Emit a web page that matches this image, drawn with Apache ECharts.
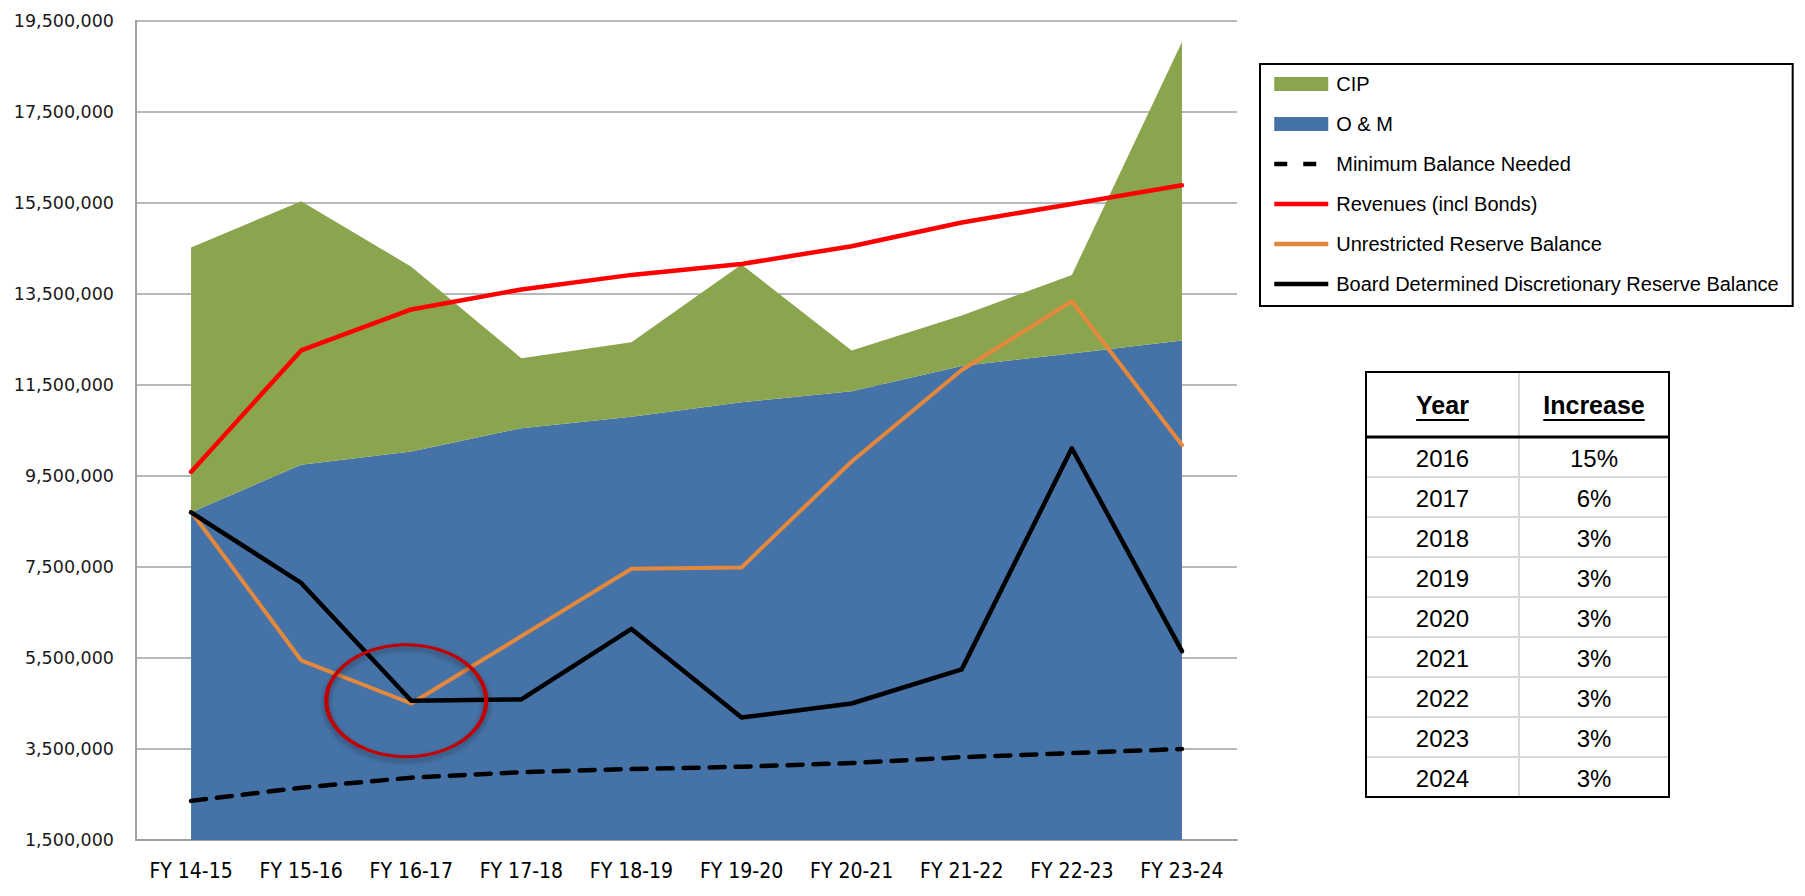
<!DOCTYPE html>
<html>
<head>
<meta charset="utf-8">
<script src="https://cdn.jsdelivr.net/npm/echarts@6/dist/echarts.min.js"></script>
<style>
  html, body { margin: 0; padding: 0; background: #ffffff; }
  #chart { width: 1805px; height: 896px; }
</style>
</head>
<body>
<div id="chart"></div>
<script>
// ---------- data ----------
const categories = ['FY 14-15', 'FY 15-16', 'FY 16-17', 'FY 17-18', 'FY 18-19', 'FY 19-20', 'FY 20-21', 'FY 21-22', 'FY 22-23', 'FY 23-24'];
const omValues = [8700000, 9750000, 10040000, 10550000, 10800000, 11120000, 11360000, 11920000, 12190000, 12480000];
const totalValues = [14520000, 15540000, 14100000, 12090000, 12440000, 14150000, 12260000, 13030000, 13920000, 19040000];
const minimumBalance = [2360000, 2650000, 2870000, 2990000, 3060000, 3110000, 3190000, 3320000, 3410000, 3500000];
const revenues = [9590000, 12260000, 13160000, 13600000, 13920000, 14160000, 14550000, 15070000, 15480000, 15890000];
const unrestrictedReserve = [8720000, 5450000, 4500000, 5980000, 7460000, 7490000, 9820000, 11830000, 13340000, 10180000];
const boardReserve = [8700000, 7150000, 4560000, 4590000, 6140000, 4190000, 4500000, 5250000, 10110000, 5650000];
const cipValues = totalValues.map((t, i) => t - omValues[i]);

const yTickValues = [1500000, 3500000, 5500000, 7500000, 9500000, 11500000, 13500000, 15500000, 17500000, 19500000];

const tableHeaders = ['Year', 'Increase'];
const tableYears = ['2016', '2017', '2018', '2019', '2020', '2021', '2022', '2023', '2024'];
const tableIncreases = ['15%', '6%', '3%', '3%', '3%', '3%', '3%', '3%', '3%'];

// ---------- styles ----------
const C_GREEN = '#8BA54F';
const C_BLUE = '#4673A7';
const C_RED = '#FF0000';
const C_ORANGE = '#E3883C';
const C_BLACK = '#000000';
const GRID_COLOR = '#A0A0A0';
const DASH = [15, 11];

const chart = echarts.init(document.getElementById('chart'), null, { renderer: 'svg' });

// ---------- table graphic ----------
function measure(text, font) {
  const c = document.createElement('canvas').getContext('2d');
  c.font = font;
  return c.measureText(text).width;
}
function buildTable() {
  const L = 1366, T = 372, W = 303, colX = 1519, headH = 65, rowH = 40;
  const R = L + W;
  const nRows = tableYears.length;
  const B = T + headH + nRows * rowH;
  const c1 = (L + colX) / 2, c2 = (colX + R) / 2;
  const els = [];
  els.push({ type: 'rect', shape: { x: L, y: T, width: W, height: B - T }, style: { fill: '#fff' }, z: 10 });
  for (let i = 1; i < nRows; i++) {
    const y = T + headH + i * rowH;
    els.push({ type: 'line', shape: { x1: L, y1: y, x2: R, y2: y }, style: { stroke: '#D9D9D9', lineWidth: 2 }, z: 11 });
  }
  els.push({ type: 'line', shape: { x1: colX, y1: T, x2: colX, y2: B }, style: { stroke: '#D9D9D9', lineWidth: 2 }, z: 11 });
  els.push({ type: 'line', shape: { x1: L, y1: T + headH, x2: R, y2: T + headH }, style: { stroke: '#000', lineWidth: 3 }, z: 12 });
  els.push({ type: 'rect', shape: { x: L, y: T, width: W, height: B - T }, style: { fill: 'none', stroke: '#000', lineWidth: 2 }, z: 13 });
  const headFont = 'bold 25px "Liberation Sans", Arial, sans-serif';
  [c1, c2].forEach((cx, k) => {
    els.push({ type: 'text', x: cx, y: T + 33, style: { text: tableHeaders[k], align: 'center', verticalAlign: 'middle', font: headFont, fill: '#000' }, z: 14 });
    const w = measure(tableHeaders[k], headFont);
    els.push({ type: 'line', shape: { x1: cx - w / 2, y1: T + 48, x2: cx + w / 2, y2: T + 48 }, style: { stroke: '#000', lineWidth: 2 }, z: 14 });
  });
  const bodyFont = '24px "Liberation Sans", Arial, sans-serif';
  for (let i = 0; i < nRows; i++) {
    const cy = T + headH + i * rowH + rowH / 2 + 1;
    els.push({ type: 'text', x: c1, y: cy, style: { text: tableYears[i], align: 'center', verticalAlign: 'middle', font: bodyFont, fill: '#000' }, z: 14 });
    els.push({ type: 'text', x: c2, y: cy, style: { text: tableIncreases[i], align: 'center', verticalAlign: 'middle', font: bodyFont, fill: '#000' }, z: 14 });
  }
  return els;
}

const lineSeries = (name, data, color, width, type, z) => ({
  name, type: 'line', data, symbol: 'none', showSymbol: false, z,
  itemStyle: { color },
  lineStyle: { color, width, type, cap: 'round', join: 'round' },
  emphasis: { disabled: true }
});

const hiddenSymbol = { color: 'rgba(0,0,0,0)', borderWidth: 0, opacity: 0 };
const legendLine = (name, color, width, type) => ({
  name,
  itemStyle: hiddenSymbol,
  lineStyle: { color, width, type, cap: 'butt' }
});

const option = {
  backgroundColor: '#ffffff',
  animation: false,
  grid: { left: 136, right: 568, top: 21, bottom: 56, containLabel: false, outerBoundsMode: 'none' },
  legend: {
    orient: 'vertical',
    left: 1260, top: 64,
    padding: [10, 14, 12, 12],
    borderColor: '#000', borderWidth: 2,
    itemWidth: 54, itemHeight: 14, itemGap: 20,
    selectedMode: false,
    textStyle: { fontFamily: '"Liberation Sans", Arial, sans-serif', fontSize: 20, color: '#000', padding: [0, 0, 0, 3] },
    data: [
      { name: 'CIP', icon: 'rect', itemStyle: { borderWidth: 0 } },
      { name: 'O & M', icon: 'rect', itemStyle: { borderWidth: 0 } },
      legendLine('Minimum Balance Needed', C_BLACK, 4.5, [13, 16]),
      legendLine('Revenues (incl Bonds)', C_RED, 4.5, 'solid'),
      legendLine('Unrestricted Reserve Balance', C_ORANGE, 4.5, 'solid'),
      legendLine('Board Determined Discretionary Reserve Balance', C_BLACK, 4.5, 'solid')
    ]
  },
  xAxis: {
    type: 'category',
    data: categories,
    boundaryGap: true,
    axisLine: { show: true, lineStyle: { color: GRID_COLOR, width: 2 } },
    axisTick: { show: false },
    axisLabel: { margin: 20, color: '#000', fontSize: 21, fontFamily: '"Liberation Sans Narrow", "DejaVu Sans Condensed", sans-serif' },
    splitLine: { show: false }
  },
  yAxis: {
    type: 'value',
    min: yTickValues[0],
    max: yTickValues[yTickValues.length - 1],
    interval: yTickValues[1] - yTickValues[0],
    axisLine: { show: true, lineStyle: { color: GRID_COLOR, width: 2 } },
    axisTick: { show: false },
    axisLabel: {
      margin: 22, color: '#1a1a1a', fontSize: 17.5, fontFamily: '"DejaVu Sans", Verdana, sans-serif',
      formatter: v => Math.round(v).toLocaleString('en-US')
    },
    splitLine: { show: true, lineStyle: { color: GRID_COLOR, width: 1.5 } }
  },
  series: [
    {
      name: 'O & M', type: 'line', stack: 'spend', data: omValues, symbol: 'none', z: 1,
      itemStyle: { color: C_BLUE }, lineStyle: { width: 0, color: C_BLUE },
      areaStyle: { color: C_BLUE, opacity: 1 }, emphasis: { disabled: true }
    },
    {
      name: 'CIP', type: 'line', stack: 'spend', data: cipValues, symbol: 'none', z: 1,
      itemStyle: { color: C_GREEN }, lineStyle: { width: 0, color: C_GREEN },
      areaStyle: { color: C_GREEN, opacity: 1 }, emphasis: { disabled: true }
    },
    lineSeries('Minimum Balance Needed', minimumBalance, C_BLACK, 4.5, DASH, 3),
    lineSeries('Revenues (incl Bonds)', revenues, C_RED, 4.5, 'solid', 3),
    lineSeries('Unrestricted Reserve Balance', unrestrictedReserve, C_ORANGE, 4, 'solid', 3),
    Object.assign(lineSeries('Board Determined Discretionary Reserve Balance', boardReserve, C_BLACK, 4.5, 'solid', 4), {
      markPoint: {
        symbol: 'circle',
        symbolSize: [160, 112],
        symbolOffset: [-5, 0],
        silent: true,
        label: { show: false },
        itemStyle: {
          color: 'rgba(0,0,0,0)', borderColor: '#C00000', borderWidth: 3.5,
          shadowBlur: 6, shadowColor: 'rgba(0,0,0,0.45)', shadowOffsetY: 3
        },
        data: [{ coord: [categories[2], boardReserve[2]] }]
      }
    })
  ],
  graphic: buildTable()
};

chart.setOption(option);
</script>
</body>
</html>
